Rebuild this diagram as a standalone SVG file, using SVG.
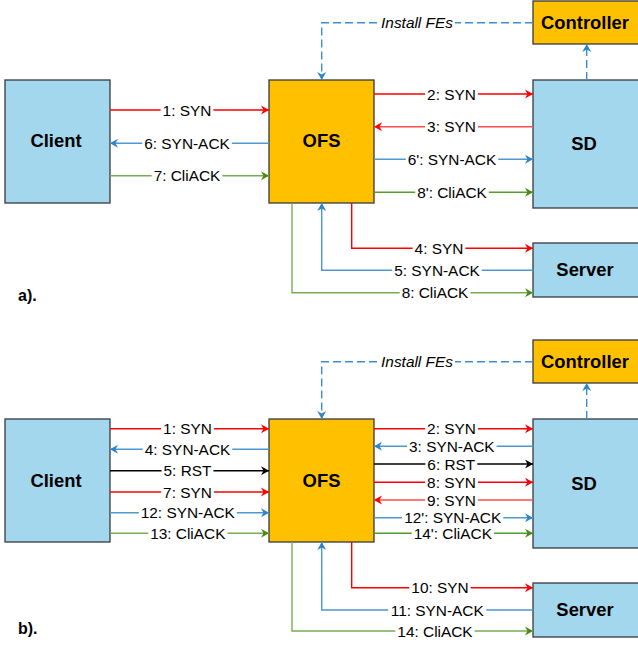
<svg xmlns="http://www.w3.org/2000/svg" width="638" height="646" viewBox="0 0 638 646">
  <style>
    .box { stroke: #36393d; stroke-width: 1.3; }
    .blue { fill: #a2d7ee; }
    .orange { fill: #ffc000; }
    .title { font-family: "Liberation Sans", Arial, sans-serif; font-weight: bold; font-size: 18.4px; fill: #000; text-anchor: middle; }
    .lbl { font-family: "Liberation Sans", Arial, sans-serif; font-size: 15.4px; fill: #000; text-anchor: middle; }
    .bg { fill: #fff; }
    .ital { font-style: italic; }
    .cap { font-family: "Liberation Sans", Arial, sans-serif; font-weight: bold; font-size: 16px; fill: #000; }
    .ln { fill: none; stroke-width: 1.4; }
    .r { stroke: #ff0000; marker-end: url(#ah-red); }
    .r2 { stroke: #ff4d4d; marker-end: url(#ah-red); }
    .b { stroke: #4f97cf; marker-end: url(#ah-blue); }
    .g { stroke: #77ad52; marker-end: url(#ah-green); }
    .g2 { stroke: #559c26; marker-end: url(#ah-green); }
    .k { stroke: #000; marker-end: url(#ah-black); }
    .d { stroke: #3c8fcc; stroke-dasharray: 8 4; marker-end: url(#ah-blue); }
  </style>
  <defs>
    <marker id="ah-red" viewBox="0 0 8 10" refX="8" refY="5" markerWidth="8" markerHeight="10" markerUnits="userSpaceOnUse" orient="auto">
      <path d="M0,0.5 L8,5 L0,9.5 L2.5,5 Z" fill="#ff0000"/>
    </marker>
    <marker id="ah-blue" viewBox="0 0 8 10" refX="8" refY="5" markerWidth="8" markerHeight="10" markerUnits="userSpaceOnUse" orient="auto">
      <path d="M0,0.5 L8,5 L0,9.5 L2.5,5 Z" fill="#2b85c8"/>
    </marker>
    <marker id="ah-green" viewBox="0 0 8 10" refX="8" refY="5" markerWidth="8" markerHeight="10" markerUnits="userSpaceOnUse" orient="auto">
      <path d="M0,0.5 L8,5 L0,9.5 L2.5,5 Z" fill="#4a8a13"/>
    </marker>
    <marker id="ah-black" viewBox="0 0 8 10" refX="8" refY="5" markerWidth="8" markerHeight="10" markerUnits="userSpaceOnUse" orient="auto">
      <path d="M0,0.5 L8,5 L0,9.5 L2.5,5 Z" fill="#000"/>
    </marker>
  </defs>

  <rect width="638" height="646" fill="#fff"/>

  <!-- ===== Panel a) ===== -->
  <g id="a-client"><rect class="box blue" x="5" y="80" width="105" height="123"/><text class="title" x="56" y="147">Client</text></g>
  <g id="a-ofs"><rect class="box orange" x="269" y="80" width="105" height="123"/><text class="title" x="321.5" y="147">OFS</text></g>
  <g id="a-controller"><rect class="box orange" x="533" y="1" width="107" height="43"/><text class="title" x="585" y="28.5">Controller</text></g>
  <g id="a-sd"><rect class="box blue" x="533" y="80" width="107" height="128"/><text class="title" x="584" y="150">SD</text></g>
  <g id="a-server"><rect class="box blue" x="533" y="243" width="107" height="54"/><text class="title" x="585" y="276">Server</text></g>
  <text class="cap" x="18" y="300.5">a).</text>

  <!-- each connector: path, white label backing, label -->
  <g id="a-connectors">
    <path class="ln d" d="M533,22.7 H321.7 V80"/>
    <rect class="bg" x="379.05" y="15.7" width="75.9" height="14"/>
    <text class="lbl ital" x="417" y="28.2">Install FEs</text>
    <path class="ln d" d="M586.7,80 V44"/>

    <path class="ln r" d="M110,110 H269"/>
    <rect class="bg" x="160.6" y="103" width="52.8" height="14"/>
    <text class="lbl" x="187" y="115.5">1: SYN</text>
    <path class="ln b" d="M269,143.3 H110"/>
    <rect class="bg" x="142.2" y="136.3" width="89.6" height="14"/>
    <text class="lbl" x="187" y="148.8">6: SYN-ACK</text>
    <path class="ln g" d="M110,175.7 H269"/>
    <rect class="bg" x="151.65" y="168.7" width="70.7" height="14"/>
    <text class="lbl" x="187" y="181.2">7: CliACK</text>

    <path class="ln r" d="M374,94 H533"/>
    <rect class="bg" x="425.1" y="87" width="52.8" height="14"/>
    <text class="lbl" x="451.5" y="99.5">2: SYN</text>
    <path class="ln r2" d="M533,126.7 H374"/>
    <rect class="bg" x="425.1" y="119.7" width="52.8" height="14"/>
    <text class="lbl" x="451.5" y="132.2">3: SYN</text>
    <path class="ln b" d="M374,159.3 H533"/>
    <rect class="bg" x="405.75" y="152.3" width="92.5" height="14"/>
    <text class="lbl" x="452" y="164.8">6': SYN-ACK</text>
    <path class="ln g2" d="M374,192.3 H533"/>
    <rect class="bg" x="415.15" y="185.3" width="73.7" height="14"/>
    <text class="lbl" x="452" y="197.8">8': CliACK</text>

    <path class="ln r" d="M351.7,203 V248.3 H533"/>
    <rect class="bg" x="412.6" y="241.3" width="52.8" height="14"/>
    <text class="lbl" x="439" y="253.8">4: SYN</text>
    <path class="ln b" d="M533,270.3 H321.7 V203"/>
    <rect class="bg" x="392.2" y="263.3" width="89.6" height="14"/>
    <text class="lbl" x="437" y="275.8">5: SYN-ACK</text>
    <path class="ln g" d="M292,203 V292.7 H533"/>
    <rect class="bg" x="399.65" y="285.7" width="70.7" height="14"/>
    <text class="lbl" x="435" y="298.2">8: CliACK</text>
  </g>

  <!-- ===== Panel b) ===== -->
  <g id="b-client"><rect class="box blue" x="5" y="419" width="105" height="123"/><text class="title" x="56" y="486.5">Client</text></g>
  <g id="b-ofs"><rect class="box orange" x="269" y="419" width="105" height="123"/><text class="title" x="321.5" y="486.5">OFS</text></g>
  <g id="b-controller"><rect class="box orange" x="533" y="340" width="107" height="43"/><text class="title" x="585" y="368">Controller</text></g>
  <g id="b-sd"><rect class="box blue" x="533" y="419" width="107" height="129"/><text class="title" x="584" y="489.5">SD</text></g>
  <g id="b-server"><rect class="box blue" x="533" y="583" width="107" height="54"/><text class="title" x="585" y="615.5">Server</text></g>
  <text class="cap" x="18" y="634">b).</text>

  <g id="b-connectors">
    <path class="ln d" d="M533,361.7 H321.7 V419"/>
    <rect class="bg" x="379.05" y="354.7" width="75.9" height="14"/>
    <text class="lbl ital" x="417" y="367.2">Install FEs</text>
    <path class="ln d" d="M586.7,419 V383"/>

    <path class="ln r" d="M110,428.7 H269"/>
    <rect class="bg" x="161.1" y="421.7" width="52.8" height="14"/>
    <text class="lbl" x="187.5" y="434.2">1: SYN</text>
    <path class="ln b" d="M269,449.3 H110"/>
    <rect class="bg" x="142.7" y="442.3" width="89.6" height="14"/>
    <text class="lbl" x="187.5" y="454.8">4: SYN-ACK</text>
    <path class="ln k" d="M110,470.7 H269"/>
    <rect class="bg" x="161.55" y="463.7" width="51.9" height="14"/>
    <text class="lbl" x="187.5" y="476.2">5: RST</text>
    <path class="ln r" d="M110,492 H269"/>
    <rect class="bg" x="161.1" y="485" width="52.8" height="14"/>
    <text class="lbl" x="187.5" y="497.5">7: SYN</text>
    <path class="ln b" d="M110,512.7 H269"/>
    <rect class="bg" x="138.75" y="505.7" width="98.1" height="14"/>
    <text class="lbl" x="187.8" y="518.2">12: SYN-ACK</text>
    <path class="ln g" d="M110,533.3 H269"/>
    <rect class="bg" x="148.15" y="526.3" width="79.3" height="14"/>
    <text class="lbl" x="187.8" y="538.8">13: CliACK</text>

    <path class="ln r" d="M374,428.7 H533"/>
    <rect class="bg" x="425.1" y="421.7" width="52.8" height="14"/>
    <text class="lbl" x="451.5" y="434.2">2: SYN</text>
    <path class="ln b" d="M533,446.3 H374"/>
    <rect class="bg" x="407" y="439.3" width="89.6" height="14"/>
    <text class="lbl" x="451.8" y="451.8">3: SYN-ACK</text>
    <path class="ln k" d="M374,464 H533"/>
    <rect class="bg" x="425.35" y="457" width="51.9" height="14"/>
    <text class="lbl" x="451.3" y="469.5">6: RST</text>
    <path class="ln r" d="M374,482.3 H533"/>
    <rect class="bg" x="425.1" y="475.3" width="52.8" height="14"/>
    <text class="lbl" x="451.5" y="487.8">8: SYN</text>
    <path class="ln r2" d="M533,500 H374"/>
    <rect class="bg" x="425.1" y="493" width="52.8" height="14"/>
    <text class="lbl" x="451.5" y="505.5">9: SYN</text>
    <path class="ln b" d="M374,517.7 H533"/>
    <rect class="bg" x="402.15" y="510.7" width="101.1" height="14"/>
    <text class="lbl" x="452.7" y="523.2">12': SYN-ACK</text>
    <path class="ln g2" d="M374,533.3 H533"/>
    <rect class="bg" x="411.7" y="526.3" width="82.2" height="14"/>
    <text class="lbl" x="452.8" y="538.8">14': CliACK</text>

    <path class="ln r" d="M351.7,542 V587.7 H533"/>
    <rect class="bg" x="409.35" y="580.7" width="61.3" height="14"/>
    <text class="lbl" x="440" y="593.2">10: SYN</text>
    <path class="ln b" d="M533,610 H321.7 V542"/>
    <rect class="bg" x="388.15" y="603" width="98.1" height="14"/>
    <text class="lbl" x="437.2" y="615.5">11: SYN-ACK</text>
    <path class="ln g" d="M292,542 V631 H533"/>
    <rect class="bg" x="395.35" y="624" width="79.3" height="14"/>
    <text class="lbl" x="435" y="636.5">14: CliACK</text>
  </g>
</svg>
